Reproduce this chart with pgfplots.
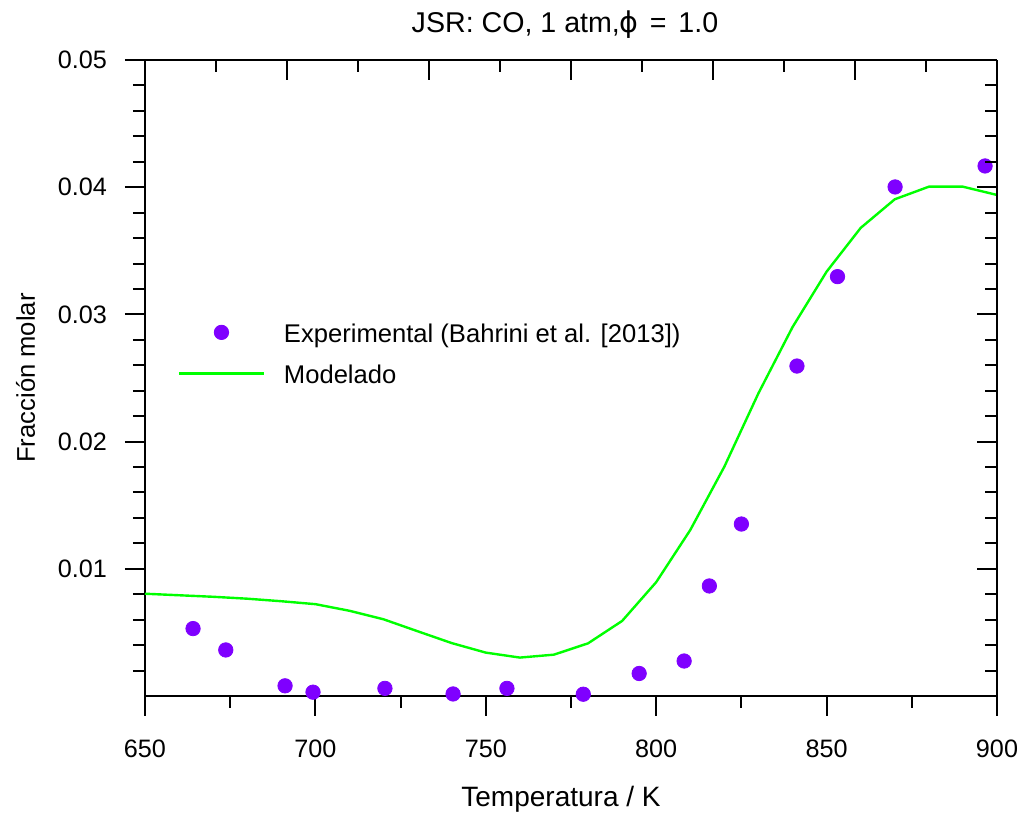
\documentclass[border=0pt]{standalone}
\usepackage{fontspec}
\setmainfont{Liberation Sans}
\newfontfamily\dejavu{DejaVu Sans}
\usepackage{pgfplots}
\pgfplotsset{compat=1.18}
\definecolor{expc}{RGB}{127,0,255}
\definecolor{modc}{RGB}{0,255,0}
\pgfplotsset{
  expleg/.style={legend image code/.code={\draw[##1, mark repeat=1] plot coordinates {(21.25pt,5pt)}; \path[draw=none,fill=none] (0pt,0pt) rectangle (52.5pt,1pt);}},
  modleg/.style={legend image code/.code={\draw[##1] (0pt,5pt) -- (42.5pt,5pt); \path[draw=none,fill=none] (0pt,0pt) rectangle (52.5pt,1pt);}},
}
\begin{document}
\begin{tikzpicture}
\useasboundingbox (-72.5pt,-61.5pt) rectangle (436.5pt,348pt);
\pgfplotsset{
  common/.style={
    at={(0pt,0pt)}, anchor=south west,
    width=426pt, height=318pt, scale only axis,
    ymin=0, ymax=0.05,
    scaled y ticks=false, scaled x ticks=false,
    font=\fontsize{12.8}{15}\selectfont,
    tick label style={font=\fontsize{12.6}{15}\selectfont},
    major tick length=10pt, minor tick length=6pt,
    every tick/.style={black, line width=1pt},
    axis line style={black, line width=1pt, -},
    ytick={0.01,0.02,0.03,0.04,0.05},
    minor ytick={0.002,0.004,0.006,0.008,0.012,0.014,0.016,0.018,0.022,0.024,0.026,0.028,0.032,0.034,0.036,0.038,0.042,0.044,0.046,0.048},
  }
}
\begin{axis}[common,
  xmin=650, xmax=900,
  axis x line*=bottom, axis y line*=left,
  tick align=outside,
  xtick={650,700,750,800,850,900},
  xticklabels={650,700,750,800,850,900},
  minor xtick={675,725,775,825,875},
  yticklabels={0.01,0.02,0.03,0.04,0.05},
  xticklabel style={anchor=base, yshift=-20.6pt},
  yticklabel style={anchor=east, xshift=-5.5pt},
  title={JSR: CO, 1 atm,\hspace{0pt}{\dejavu ϕ}\hspace{5.5pt}=\hspace{6pt}1.0},
  every axis title/.style={at={(rel axis cs:0.5,1)}, anchor=base, yshift=14pt, xshift=-3pt, font=\fontsize{14.3}{16}\selectfont},
  xlabel={Temperatura / K},
  every axis x label/.style={at={(rel axis cs:0.5,0)}, anchor=base, yshift=-55.5pt, xshift=-5pt, font=\fontsize{14}{16}\selectfont},
  ylabel={Fracción molar},
  every axis y label/.style={at={(rel axis cs:0,0.5)}, xshift=-55pt, rotate=90, anchor=base},
  legend style={at={(rel axis cs:0.038,0.5865)}, anchor=north west, draw=none, fill=none,
    inner sep=0pt, row sep=8pt, column sep=0pt,
    nodes={inner sep=0pt, text height=9.5pt, text depth=3pt, anchor=base west}},
  legend cell align=left,
]
\addplot[only marks, mark=*, mark size=3.6pt, color=expc, expleg]
  coordinates {
  (664.1,0.00530) (673.7,0.00362) (691.1,0.00080) (699.3,0.00030)
  (720.4,0.00060) (740.4,0.00016) (756.2,0.00060) (778.6,0.00014)
  (795.0,0.00177) (808.2,0.00275) (815.6,0.00865) (825.0,0.01352)
  (841.3,0.02594) (853.2,0.03297) (870.1,0.04002) (896.5,0.04167)
  };
\addlegendentry{Experimental (Bahrini et al. [2013])}
\addplot[color=modc, line width=1.2pt, mark=none, modleg]
  coordinates {
  (650,0.00804) (660,0.00792) (670,0.00780) (680,0.00765) (690,0.00745)
  (700,0.00722) (710,0.00670) (720,0.00603) (730,0.00509) (740,0.00416)
  (750,0.00341) (760,0.00302) (770,0.00325) (780,0.00414) (790,0.00590)
  (800,0.00895) (810,0.01305) (820,0.01803) (830,0.02380) (840,0.02900)
  (850,0.03336) (860,0.03680) (870,0.03905) (880,0.04004) (890,0.04004)
  (900,0.03939)
  };
\addlegendentry{Modelado}
\end{axis}
\begin{axis}[common,
  xmin=0, xmax=12,
  axis x line*=top, axis y line*=right,
  tick align=inside,
  xtick={2,4,6,8,10},
  minor xtick={1,3,5,7,9,11},
  xticklabels={}, yticklabels={},
  tick label style={overlay, inner sep=0pt},
]
\end{axis}
\end{tikzpicture}
\end{document}
